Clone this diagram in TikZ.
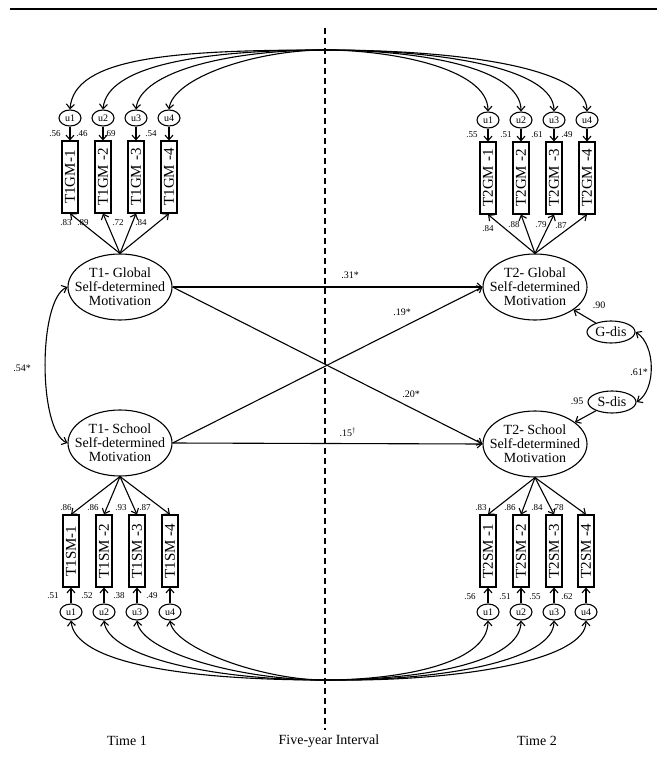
\documentclass[tikz,border=0pt]{standalone}
\usepackage{fontspec}
\setmainfont{Liberation Serif}
\usetikzlibrary{shapes.geometric, arrows.meta}

\begin{document}
\begin{tikzpicture}[x=1pt, y=-1pt,
  latent/.style={ellipse, draw, line width=1.1pt, minimum width=104pt, minimum height=66pt,
                 inner xsep=-10pt, inner ysep=0pt, align=center, font=\fontsize{14}{14}\selectfont},
  dist/.style={ellipse, draw, line width=1.1pt, minimum width=48pt, minimum height=22pt,
               inner sep=0pt, font=\fontsize{14}{14}\selectfont},
  err/.style={ellipse, draw, line width=1.1pt, minimum width=22pt, minimum height=16pt,
              inner sep=0pt, font=\fontsize{10}{10}\selectfont},
  item/.style={rectangle, draw, line width=1.1pt, minimum width=16pt, minimum height=72pt,
               inner sep=0pt, font=\fontsize{15}{15}\selectfont},
  coef/.style={inner sep=0pt, font=\fontsize{9}{9}\selectfont},
  path coef/.style={inner sep=0pt, font=\fontsize{10}{10}\selectfont},
  arr/.style={-{Straight Barb[length=4.5pt,width=8pt]}, line width=1.1pt},
  cov/.style={{Straight Barb[length=4.5pt,width=8pt]}-{Straight Barb[length=4.5pt,width=8pt]}, line width=1.1pt},
  interval/.style={line width=1.3pt, dash pattern=on 6pt off 4pt}
]
  \useasboundingbox (0,0) rectangle (665,760);
  % top rule and the five-year line
  \coordinate (rl) at (10,9);
  \coordinate (rr) at (657,9);
  \draw[line width=2.4pt] (rl) -- (rr);
  \coordinate (dt) at (325,28);
  \coordinate (db) at (325,730);
  \draw[interval] (dt) -- (db);

  % latent factors
  \node[latent] (t1g) at (120,287) {T1- Global\\Self-determined\\Motivation};
  \node[latent] (t1s) at (120,443) {T1- School\\Self-determined\\Motivation};
  \node[latent] (t2g) at (535,287) {T2- Global\\Self-determined\\Motivation};
  \node[latent] (t2s) at (535,444) {T2- School\\Self-determined\\Motivation};
  \node[dist] (gdis) at (611,332) {G-dis};
  \node[dist] (sdis) at (612,402) {S-dis};

  % T1 global indicators
  \node[item] (t1gm1) at (70,177)  {\rotatebox{90}{T1GM-1}};
  \node[item] (t1gm2) at (103,177) {\rotatebox{90}{T1GM -2}};
  \node[item] (t1gm3) at (136,177) {\rotatebox{90}{T1GM -3}};
  \node[item] (t1gm4) at (169,177) {\rotatebox{90}{T1GM -4}};
  \node[err] (e1g1) at (70,118)  {u1};
  \node[err] (e1g2) at (103,118) {u2};
  \node[err] (e1g3) at (136,118) {u3};
  \node[err] (e1g4) at (169,118) {u4};
  % T2 global indicators
  \node[item] (t2gm1) at (488,178) {\rotatebox{90}{T2GM -1}};
  \node[item] (t2gm2) at (521,178) {\rotatebox{90}{T2GM -2}};
  \node[item] (t2gm3) at (554,178) {\rotatebox{90}{T2GM -3}};
  \node[item] (t2gm4) at (587,178) {\rotatebox{90}{T2GM -4}};
  \node[err] (e2g1) at (488,120) {u1};
  \node[err] (e2g2) at (521,120) {u2};
  \node[err] (e2g3) at (554,120) {u3};
  \node[err] (e2g4) at (587,120) {u4};
  % T1 school indicators
  \node[item] (t1sm1) at (71,551)  {\rotatebox{90}{T1SM-1}};
  \node[item] (t1sm2) at (104,551) {\rotatebox{90}{T1SM -2}};
  \node[item] (t1sm3) at (137,551) {\rotatebox{90}{T1SM -3}};
  \node[item] (t1sm4) at (170,551) {\rotatebox{90}{T1SM -4}};
  \node[err] (e1s1) at (71,612)  {u1};
  \node[err] (e1s2) at (104,612) {u2};
  \node[err] (e1s3) at (137,612) {u3};
  \node[err] (e1s4) at (170,612) {u4};
  % T2 school indicators
  \node[item] (t2sm1) at (488,551) {\rotatebox{90}{T2SM -1}};
  \node[item] (t2sm2) at (521,551) {\rotatebox{90}{T2SM -2}};
  \node[item] (t2sm3) at (554,551) {\rotatebox{90}{T2SM -3}};
  \node[item] (t2sm4) at (586,551) {\rotatebox{90}{T2SM -4}};
  \node[err] (e2s1) at (488,612) {u1};
  \node[err] (e2s2) at (521,612) {u2};
  \node[err] (e2s3) at (554,612) {u3};
  \node[err] (e2s4) at (586,612) {u4};

  % loadings
  \draw[arr] (t1g.north) -- (t1gm1.south);
  \draw[arr] (t1g.north) -- (t1gm2.south);
  \draw[arr] (t1g.north) -- (t1gm3.south);
  \draw[arr] (t1g.north) -- (t1gm4.south);
  \draw[arr] (t2g.north) -- (t2gm1.south);
  \draw[arr] (t2g.north) -- (t2gm2.south);
  \draw[arr] (t2g.north) -- (t2gm3.south);
  \draw[arr] (t2g.north) -- (t2gm4.south);
  \draw[arr] (t1s.south) -- (t1sm1.north);
  \draw[arr] (t1s.south) -- (t1sm2.north);
  \draw[arr] (t1s.south) -- (t1sm3.north);
  \draw[arr] (t1s.south) -- (t1sm4.north);
  \draw[arr] (t2s.south) -- (t2sm1.north);
  \draw[arr] (t2s.south) -- (t2sm2.north);
  \draw[arr] (t2s.south) -- (t2sm3.north);
  \draw[arr] (t2s.south) -- (t2sm4.north);
  \node[coef] (l1g1) at (66,223)  {.83};
  \node[coef] (l1g2) at (83,223)  {.89};
  \node[coef] (l1g3) at (118,223) {.72};
  \node[coef] (l1g4) at (141,223) {.84};
  \node[coef] (l2g1) at (488,229) {.84};
  \node[coef] (l2g2) at (514,225) {.88};
  \node[coef] (l2g3) at (541,225) {.79};
  \node[coef] (l2g4) at (561,226) {.87};
  \node[coef] (l1s1) at (66,508)  {.86};
  \node[coef] (l1s2) at (93,508)  {.86};
  \node[coef] (l1s3) at (121,508) {.93};
  \node[coef] (l1s4) at (145,508) {.87};
  \node[coef] (l2s1) at (481,508) {.83};
  \node[coef] (l2s2) at (510,508) {.86};
  \node[coef] (l2s3) at (537,508) {.84};
  \node[coef] (l2s4) at (558,508) {.78};

  % errors
  \draw[arr] (e1g1) -- (t1gm1);
  \draw[arr] (e1g2) -- (t1gm2);
  \draw[arr] (e1g3) -- (t1gm3);
  \draw[arr] (e1g4) -- (t1gm4);
  \draw[arr] (e2g1) -- (t2gm1);
  \draw[arr] (e2g2) -- (t2gm2);
  \draw[arr] (e2g3) -- (t2gm3);
  \draw[arr] (e2g4) -- (t2gm4);
  \draw[arr] (e1s1) -- (t1sm1);
  \draw[arr] (e1s2) -- (t1sm2);
  \draw[arr] (e1s3) -- (t1sm3);
  \draw[arr] (e1s4) -- (t1sm4);
  \draw[arr] (e2s1) -- (t2sm1);
  \draw[arr] (e2s2) -- (t2sm2);
  \draw[arr] (e2s3) -- (t2sm3);
  \draw[arr] (e2s4) -- (t2sm4);
  \node[coef] (v1g1) at (55,134)  {.56};
  \node[coef] (v1g2) at (82,134)  {.46};
  \node[coef] (v1g3) at (110,134) {.69};
  \node[coef] (v1g4) at (151,134) {.54};
  \node[coef] (v2g1) at (472,135) {.55};
  \node[coef] (v2g2) at (506,135) {.51};
  \node[coef] (v2g3) at (537,135) {.61};
  \node[coef] (v2g4) at (567,135) {.49};
  \node[coef] (v1s1) at (53,596)  {.51};
  \node[coef] (v1s2) at (87,596)  {.52};
  \node[coef] (v1s3) at (119,596) {.38};
  \node[coef] (v1s4) at (152,596) {.49};
  \node[coef] (v2s1) at (470,597) {.56};
  \node[coef] (v2s2) at (505,597) {.51};
  \node[coef] (v2s3) at (535,597) {.55};
  \node[coef] (v2s4) at (567,597) {.62};

  % error covariances across the interval
  \draw[cov] (e1g1.north) .. controls (74,58) and (170,50) .. (325,50)
             .. controls (390,50) and (488,68) .. (e2g1.north);
  \draw[cov] (e1g2.north) .. controls (107,66) and (200,50) .. (325,50)
             .. controls (420,50) and (521,68) .. (e2g2.north);
  \draw[cov] (e1g3.north) .. controls (140,72) and (228,50) .. (325,50)
             .. controls (445,50) and (554,69) .. (e2g3.north);
  \draw[cov] (e1g4.north) .. controls (173,78) and (255,50) .. (325,50)
             .. controls (470,50) and (587,70) .. (e2g4.north);
  \draw[cov] (e1s1.south) .. controls (75,662) and (180,680) .. (325,680)
             .. controls (395,680) and (488,665) .. (e2s1.south);
  \draw[cov] (e1s2.south) .. controls (108,656) and (210,680) .. (325,680)
             .. controls (420,680) and (521,663) .. (e2s2.south);
  \draw[cov] (e1s3.south) .. controls (141,652) and (240,680) .. (325,680)
             .. controls (445,681) and (554,660) .. (e2s3.south);
  \draw[cov] (e1s4.south) .. controls (174,648) and (262,680) .. (325,680)
             .. controls (470,682) and (586,658) .. (e2s4.south);

  % structural paths
  \draw[arr] (t1g.east) -- (t2g.west);
  \draw[arr] (t1g.east) -- (t2s.west);
  \draw[arr] (t1s.east) -- (t2g.west);
  \draw[arr] (t1s.east) -- (t2s.west);
  \draw[cov] (t1g.west) .. controls (38,300) and (38,430) .. (t1s.west);
  \draw[arr] (gdis) -- (t2g);
  \draw[arr] (sdis) -- (t2s);
  \draw[cov] (gdis.east) .. controls (656,345) and (656,390) .. (sdis.east);
  \node[path coef] (p31) at (350,275) {.31*};
  \node[path coef] (p19) at (402,312) {.19*};
  \node[path coef] (p20) at (411,394) {.20*};
  \node[path coef] (p15) at (348,432) {.15$^{\dagger}$};
  \node[path coef] (p54) at (22,368)  {.54*};
  \node[path coef] (p90) at (599,305) {.90};
  \node[path coef] (p95) at (577,401) {.95};
  \node[path coef] (p61) at (639,372) {.61*};

  % time labels
  \node[font=\fontsize{14}{14}\selectfont] (time1) at (127,741) {Time 1};
  \node[font=\fontsize{14}{14}\selectfont] (gap)   at (329,741) {Five-year Interval};
  \node[font=\fontsize{14}{14}\selectfont] (time2) at (537,741) {Time 2};
\end{tikzpicture}
\end{document}
